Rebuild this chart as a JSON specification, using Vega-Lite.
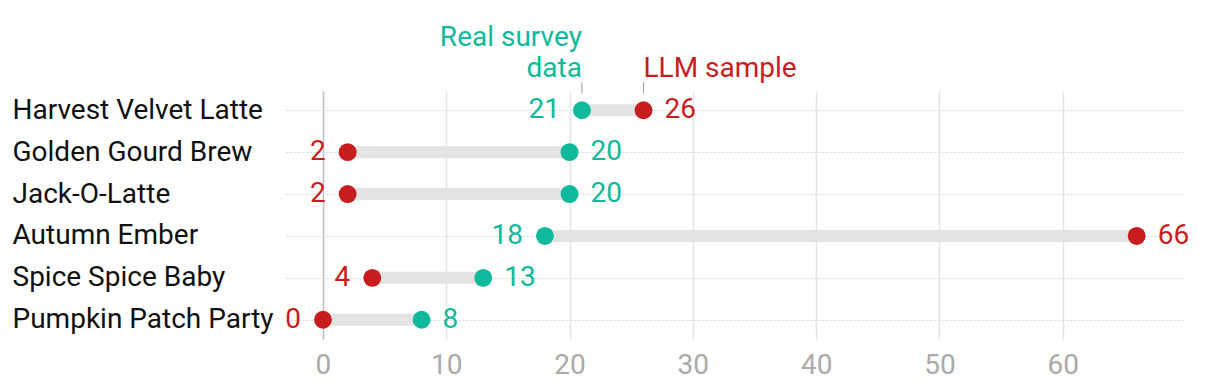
{
  "$schema": "https://vega.github.io/schema/vega-lite/v6.json",
  "width": 900,
  "height": 248,
  "autosize": {"type": "none"},
  "padding": {"left": 286, "top": 91, "right": 34, "bottom": 47},
  "background": "white",
  "config": {"font": "Roboto", "view": {"stroke": null}},
  "data": {"values": [
    {"drink": "Harvest Velvet Latte", "survey": 21, "llm": 26},
    {"drink": "Golden Gourd Brew", "survey": 20, "llm": 2},
    {"drink": "Jack-O-Latte", "survey": 20, "llm": 2},
    {"drink": "Autumn Ember", "survey": 18, "llm": 66},
    {"drink": "Spice Spice Baby", "survey": 13, "llm": 4},
    {"drink": "Pumpkin Patch Party", "survey": 8, "llm": 0}
  ]},
  "transform": [
    {"calculate": "min(datum.survey, datum.llm)", "as": "lo"},
    {"calculate": "max(datum.survey, datum.llm)", "as": "hi"}
  ],
  "encoding": {
    "y": {
      "field": "drink", "type": "nominal", "sort": null,
      "scale": {"type": "point", "padding": 0.46},
      "axis": {
        "title": null, "ticks": false, "domain": false,
        "labelAlign": "left", "labelPadding": 274, "labelFontSize": 28, "labelLimit": 0,
        "labelColor": "#111", "grid": true, "gridDash": [2, 2], "gridColor": "#d6d6d6"
      }
    }
  },
  "layer": [
    {
      "mark": {"type": "rule", "color": "#e3e3e3", "strokeWidth": 12},
      "encoding": {
        "x": {
          "field": "lo", "type": "quantitative",
          "scale": {"domain": [-3, 70], "nice": false, "zero": false},
          "axis": {
            "title": null, "values": [0, 10, 20, 30, 40, 50, 60], "ticks": false, "domain": false,
            "labelFontSize": 28, "labelColor": "#aaaaaa", "labelPadding": 12,
            "grid": true, "gridWidth": 1.5,
            "gridColor": {"condition": {"test": "datum.value === 0", "value": "#bdbdbd"}, "value": "#e4e4e4"}
          }
        },
        "x2": {"field": "hi"}
      }
    },
    {
      "transform": [{"fold": ["survey", "llm"], "as": ["series", "value"]}],
      "mark": {"type": "circle", "size": 320, "opacity": 1},
      "encoding": {
        "x": {"field": "value", "type": "quantitative"},
        "color": {"field": "series", "type": "nominal", "legend": null,
          "scale": {"domain": ["survey", "llm"], "range": ["#0fb99b", "#c81d1e"]}}
      }
    },
    {
      "transform": [{"fold": ["survey", "llm"], "as": ["series", "value"]}, {"filter": "datum.value == datum.lo"}],
      "mark": {"type": "text", "align": "right", "baseline": "middle", "dx": -22, "fontSize": 28},
      "encoding": {
        "x": {"field": "value", "type": "quantitative"},
        "text": {"field": "value", "type": "quantitative"},
        "color": {"field": "series", "type": "nominal", "legend": null}
      }
    },
    {
      "transform": [{"fold": ["survey", "llm"], "as": ["series", "value"]}, {"filter": "datum.value == datum.hi"}],
      "mark": {"type": "text", "align": "left", "baseline": "middle", "dx": 21, "fontSize": 28},
      "encoding": {
        "x": {"field": "value", "type": "quantitative"},
        "text": {"field": "value", "type": "quantitative"},
        "color": {"field": "series", "type": "nominal", "legend": null}
      }
    },
    {
      "transform": [{"filter": "datum.drink == 'Harvest Velvet Latte'"}],
      "mark": {"type": "text", "align": "right", "baseline": "alphabetic", "dy": -64, "fontSize": 28, "color": "#0fb99b", "text": "Real survey"},
      "encoding": {"x": {"field": "survey", "type": "quantitative"}}
    },
    {
      "transform": [{"filter": "datum.drink == 'Harvest Velvet Latte'"}],
      "mark": {"type": "text", "align": "right", "baseline": "alphabetic", "dy": -33, "fontSize": 28, "color": "#0fb99b", "text": "data"},
      "encoding": {"x": {"field": "survey", "type": "quantitative"}}
    },
    {
      "transform": [{"filter": "datum.drink == 'Harvest Velvet Latte'"}],
      "mark": {"type": "text", "align": "left", "baseline": "alphabetic", "dy": -33, "fontSize": 28, "color": "#c81d1e", "text": "LLM sample"},
      "encoding": {"x": {"field": "llm", "type": "quantitative"}}
    },
    {
      "transform": [{"filter": "datum.drink == 'Harvest Velvet Latte'"}, {"fold": ["survey", "llm"], "as": ["series", "value"]}],
      "mark": {"type": "point", "shape": "M0,-2.8V-1.7", "size": 400, "filled": false, "stroke": "#999999", "strokeWidth": 1, "opacity": 1},
      "encoding": {"x": {"field": "value", "type": "quantitative"}}
    }
  ]
}
